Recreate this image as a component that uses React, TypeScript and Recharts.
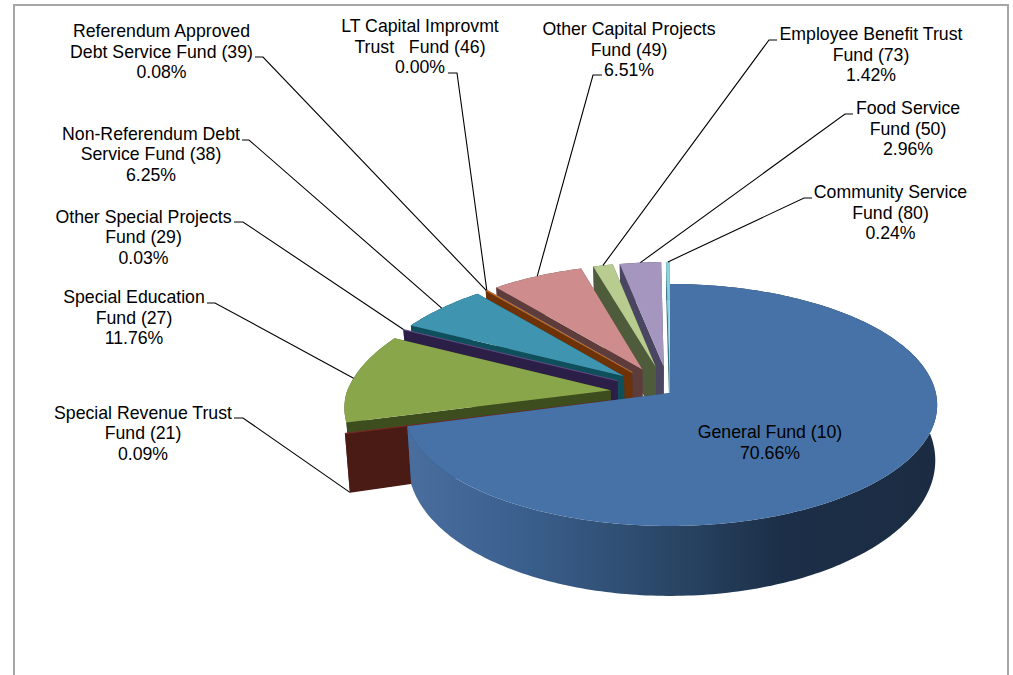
import React from "react";
import { PieChart, Pie } from "recharts";

const fundLabels: string[][] = [
  ["General Fund (10)"],
  ["Special Revenue Trust", "Fund (21)"],
  ["Special Education", "Fund (27)"],
  ["Other Special Projects", "Fund (29)"],
  ["Non-Referendum Debt", "Service Fund (38)"],
  ["Referendum Approved", "Debt Service Fund (39)"],
  ["LT Capital Improvmt", "Trust   Fund (46)"],
  ["Other Capital Projects", "Fund (49)"],
  ["Employee Benefit Trust", "Fund (73)"],
  ["Food Service", "Fund (50)"],
  ["Community Service", "Fund (80)"],
];
const fundShares = [70.66, 0.09, 11.76, 0.03, 6.25, 0.08, 0.0, 6.51, 1.42, 2.96, 0.24];
const topColors = ["#4672a8", "#7a2f28", "#8aa64a", "#6a5590", "#3f94b0", "#c8702a", "#8aa8d0", "#cf8c8c", "#b7cc8e", "#a596bf", "#8fd0e0"];
const wallColors = ["#2d4a6e", "#4a1a14", "#3d4d1e", "#2c1f47", "#0f4f5c", "#6e3208", "#334c6e", "#5e3c3c", "#4f5c3c", "#4a4560", "#2d6a7a"];

// Where each label's text block sits, and the leader's first two points (layout, not data).
const labelLayout = [
  { cx: 770, y: 438, line: null as null | number[] },
  { cx: 143, y: 418.5, line: [234, 418, 243, 418] },
  { cx: 134, y: 303, line: [207, 303, 215, 303] },
  { cx: 143.5, y: 222.5, line: [234, 222, 243, 222] },
  { cx: 151, y: 139.5, line: [242, 140, 249, 140] },
  { cx: 161.5, y: 37, line: [255, 57, 263, 57] },
  { cx: 420, y: 32, line: [448, 73, 457, 73] },
  { cx: 629, y: 35, line: [602, 75, 593, 75] },
  { cx: 871, y: 40, line: [777, 40, 769, 40] },
  { cx: 908, y: 114, line: [853, 114, 845, 114] },
  { cx: 890.5, y: 198, line: [812, 198, 804, 198] },
];

const chartData = fundLabels
  .map((lines, i) => ({ name: lines.join(" "), value: fundShares[i], index: i, lines }))
  .reverse();

const YRATIO = 119.8 / 264;
const K = 0.099;
const K_BACK_LEFT = 0.147;
const K_FRONT_LEFT = 0.12;
const EXPLODE = 0.227;
const DEPTH = 54;
const BOTTOM_Y = 1.12;
const BOTTOM_X_LEFT = 0.985;
const BOTTOM_X_RIGHT = 0.993;
const RIGHT_STRETCH = 1.007;

type P = { x: number; y: number };
function project(cx: number, cy: number, R: number, u: number, v: number, bottom: boolean): P {
  const f = 1 / (1 + K * v);
  const kx = u < 0 ? (v > 0 ? K_BACK_LEFT : K_FRONT_LEFT) : K;
  const fx = (1 / (1 + kx * v)) * (u > 0 ? RIGHT_STRETCH : 1);
  const sx = bottom ? (u < 0 ? BOTTOM_X_LEFT : BOTTOM_X_RIGHT) : 1;
  const sy = bottom ? BOTTOM_Y : 1;
  return {
    x: cx + R * u * fx * sx,
    y: cy + (bottom ? DEPTH : 0) - R * YRATIO * v * f * sy,
  };
}
const rad = (d: number) => (d * Math.PI) / 180;
const toPath = (pts: P[]) =>
  "M" + pts.map((p) => `${p.x.toFixed(2)},${p.y.toFixed(2)}`).join("L") + "Z";

function offsetOf(index: number, mid: number) {
  const e = index === 0 ? 0 : EXPLODE;
  return { ox: e * Math.cos(rad(mid)), oy: e * Math.sin(rad(mid)) };
}

function Slice3D(props: any) {
  const { cx, cy, outerRadius: R, startAngle, endAngle } = props;
  const idx: number = props.payload?.index ?? props.index ?? 0;
  const a0 = Math.min(startAngle, endAngle);
  const a1 = Math.max(startAngle, endAngle);
  const mid = (a0 + a1) / 2;
  const { ox, oy } = offsetOf(idx, mid);
  const n = Math.max(1, Math.ceil(a1 - a0));
  const angles = Array.from({ length: n + 1 }, (_, i) => a0 + ((a1 - a0) * i) / n);
  const pt = (a: number, bottom: boolean) =>
    project(cx, cy, R, Math.cos(rad(a)) + ox, Math.sin(rad(a)) + oy, bottom);
  const vertex = (bottom: boolean) => project(cx, cy, R, ox, oy, bottom);
  const cut = (a: number) => toPath([vertex(false), pt(a, false), pt(a, true), vertex(true)]);
  const top = toPath([vertex(false), ...angles.map((a) => pt(a, false))]);
  const outer = toPath([
    ...angles.map((a) => pt(a, false)),
    ...angles.slice().reverse().map((a) => pt(a, true)),
  ]);
  const wall = idx === 0 ? "url(#generalWall)" : wallColors[idx];
  return (
    <g>
      {idx === 0 && (
        <defs>
          <linearGradient id="generalWall" gradientUnits="userSpaceOnUse" x1={cx - R} x2={cx + R} y1="0" y2="0">
            <stop offset="0" stopColor="#4a6f9f" />
            <stop offset="0.2" stopColor="#3c6190" />
            <stop offset="0.48" stopColor="#2b4869" />
            <stop offset="0.71" stopColor="#1c2f48" />
            <stop offset="1" stopColor="#1b2c42" />
          </linearGradient>
        </defs>
      )}
      <path d={cut(a0)} fill={wallColors[idx]} />
      <path d={cut(a1)} fill={wallColors[idx]} />
      <path d={outer} fill={wall} />
      <path d={top} fill={topColors[idx]} stroke={topColors[idx]} strokeWidth={fundShares[idx] < 0.5 ? 0.5 : 0} />
    </g>
  );
}

function FundLabel(props: any) {
  const { cx, cy, outerRadius: R, midAngle } = props;
  const idx: number = props.payload?.index ?? props.index ?? 0;
  const layout = labelLayout[idx];
  const { ox, oy } = offsetOf(idx, midAngle);
  const end = project(cx, cy, R, Math.cos(rad(midAngle)) + ox, Math.sin(rad(midAngle)) + oy, idx === 1);
  const lines: string[] = [...fundLabels[idx], fundShares[idx].toFixed(2) + "%"];
  return (
    <g>
      {layout.line && (
        <polyline
          points={`${layout.line[0]},${layout.line[1]} ${layout.line[2]},${layout.line[3]} ${end.x},${end.y}`}
          fill="none"
          stroke="#000"
          strokeWidth={1.1}
        />
      )}
      <text textAnchor="middle" fontFamily="'Liberation Sans', Arial, sans-serif" fontSize={17.7} fill="#000" style={{ whiteSpace: "pre" }}>
        {lines.map((l, i) => (
          <tspan key={i} x={layout.cx} y={layout.y + i * 20.5}>
            {l}
          </tspan>
        ))}
      </text>
    </g>
  );
}

export default function App() {
  return (
    <div style={{ position: "absolute", left: 0, top: 0, width: 1013, height: 675, overflow: "hidden", background: "#fff" }}>
      <div style={{ position: "absolute", left: 13, top: 4, width: 996, height: 700, border: "2px solid #a6a6a6", boxSizing: "border-box" }} />
      <div style={{ position: "absolute", left: 0, top: 0 }}>
        <PieChart width={1013} height={675} margin={{ top: 0, right: 0, bottom: 0, left: 0 }}>
          <Pie
            data={chartData}
            dataKey="value"
            nameKey="name"
            cx={670}
            cy={393}
            outerRadius={264}
            innerRadius={0}
            startAngle={90}
            endAngle={450}
            stroke="none"
            isAnimationActive={false}
            shape={Slice3D}
            label={FundLabel}
            labelLine={false}
          />
        </PieChart>
      </div>
    </div>
  );
}
